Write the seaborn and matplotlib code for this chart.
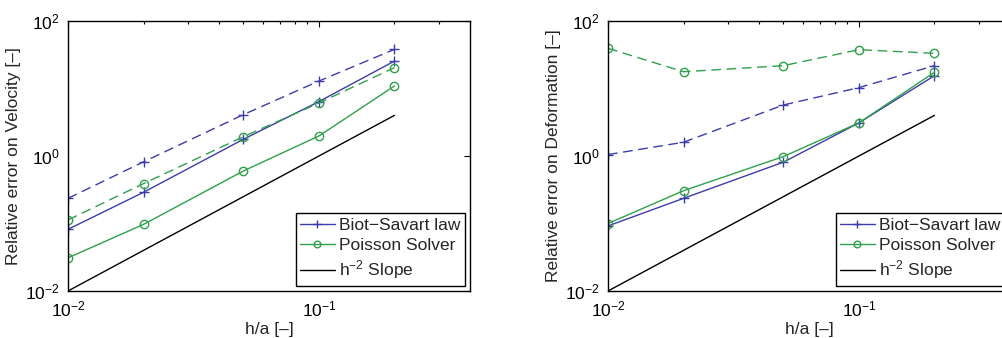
import numpy as np
import matplotlib
matplotlib.use("Agg")
import matplotlib.pyplot as plt
import seaborn as sns
from matplotlib.ticker import LogLocator, NullLocator

# grid spacing h/a
h = [0.01, 0.02, 0.05, 0.1, 0.2]

# velocity errors (left panel)
vel_bs_solid = [0.082, 0.29, 1.77, 6.4, 25.5]
vel_bs_dash = [0.236, 0.82, 4.1, 12.9, 38.0]
vel_ps_solid = [0.031, 0.097, 0.6, 1.98, 10.9]
vel_ps_dash = [0.113, 0.39, 1.93, 6.1, 20.4]

# deformation errors (right panel)
def_bs_solid = [0.092, 0.236, 0.81, 3.1, 15.5]
def_bs_dash = [1.05, 1.6, 5.7, 10.3, 21.8]
def_ps_solid = [0.1, 0.306, 0.98, 3.1, 17.4]
def_ps_dash = [39.4, 17.7, 21.8, 37.6, 33.2]

# reference slope h^2
slope = [0.01, 0.04, 0.25, 1.0, 4.0]

labels = ["Biot\u2212Savart law", "Poisson Solver", "$\\mathregular{h^{-2}}$ Slope"]
ylabels = ["Relative error on Velocity [\u2013]", "Relative error on Deformation [\u2013]"]

blue = "#3c3cac"
green = "#2fa04c"
FS = 12.5

sns.set_style("white")
plt.rcParams["font.family"] = ["Liberation Sans", "DejaVu Sans"]
plt.rcParams["mathtext.default"] = "regular"
plt.rcParams["font.size"] = FS

fig = plt.figure(figsize=(10.03, 3.38), dpi=100)
ax1 = fig.add_axes([68 / 1003, 47 / 338, 402 / 1003, 270 / 338])
ax2 = fig.add_axes([608 / 1003, 47 / 338, 402 / 1003, 270 / 338])

panels = [
    (ax1, vel_bs_solid, vel_bs_dash, vel_ps_solid, vel_ps_dash, ylabels[0]),
    (ax2, def_bs_solid, def_bs_dash, def_ps_solid, def_ps_dash, ylabels[1]),
]

dash = (0, (7, 4))
for ax, bs, bsd, ps, psd, ylab in panels:
    mk_bs = dict(marker="+", markersize=7, markeredgecolor=blue, markeredgewidth=1.0)
    mk_ps = dict(marker="o", markersize=6, markerfacecolor="none",
                 markeredgecolor=green, markeredgewidth=1.0)
    sns.lineplot(x=h, y=bs, ax=ax, color=blue, lw=1.0, label=labels[0], **mk_bs)
    sns.lineplot(x=h, y=ps, ax=ax, color=green, lw=1.0, label=labels[1], **mk_ps)
    sns.lineplot(x=h, y=slope, ax=ax, color="black", lw=1.0, label=labels[2])
    sns.lineplot(x=h, y=bsd, ax=ax, color=blue, lw=1.0, linestyle=dash, **mk_bs)
    sns.lineplot(x=h, y=psd, ax=ax, color=green, lw=1.0, linestyle=dash, **mk_ps)

    ax.set_xscale("log")
    ax.set_yscale("log")
    ax.set_xlim(0.01, 0.4)
    ax.set_ylim(0.01, 100)
    ax.set_yticks([0.01, 1, 100])
    ax.yaxis.set_minor_locator(NullLocator())
    ax.xaxis.set_major_locator(LogLocator(base=10, numticks=10))
    ax.xaxis.set_minor_locator(LogLocator(base=10, subs=np.arange(2, 10), numticks=10))

    ax.tick_params(which="both", direction="in", top=True, right=True,
                   labelsize=FS, colors="black", width=0.8)
    ax.tick_params(which="major", length=4, pad=6)
    ax.tick_params(which="minor", length=2.5)
    for sp in ax.spines.values():
        sp.set_color("black")
        sp.set_linewidth(1.0)

    ax.set_xlabel("h/a [\u2013]", fontsize=FS, labelpad=2)
    ax.set_ylabel(ylab, fontsize=FS, labelpad=3)

    leg = ax.legend(loc="lower right", fontsize=FS, frameon=True, fancybox=False,
                    edgecolor="black", framealpha=1, borderpad=0.25,
                    handlelength=2.0, handletextpad=0.25, labelspacing=0.3,
                    borderaxespad=0.3, markerscale=0.8)
    leg.get_frame().set_linewidth(1.0)

fig.savefig("out.png", dpi=100)
